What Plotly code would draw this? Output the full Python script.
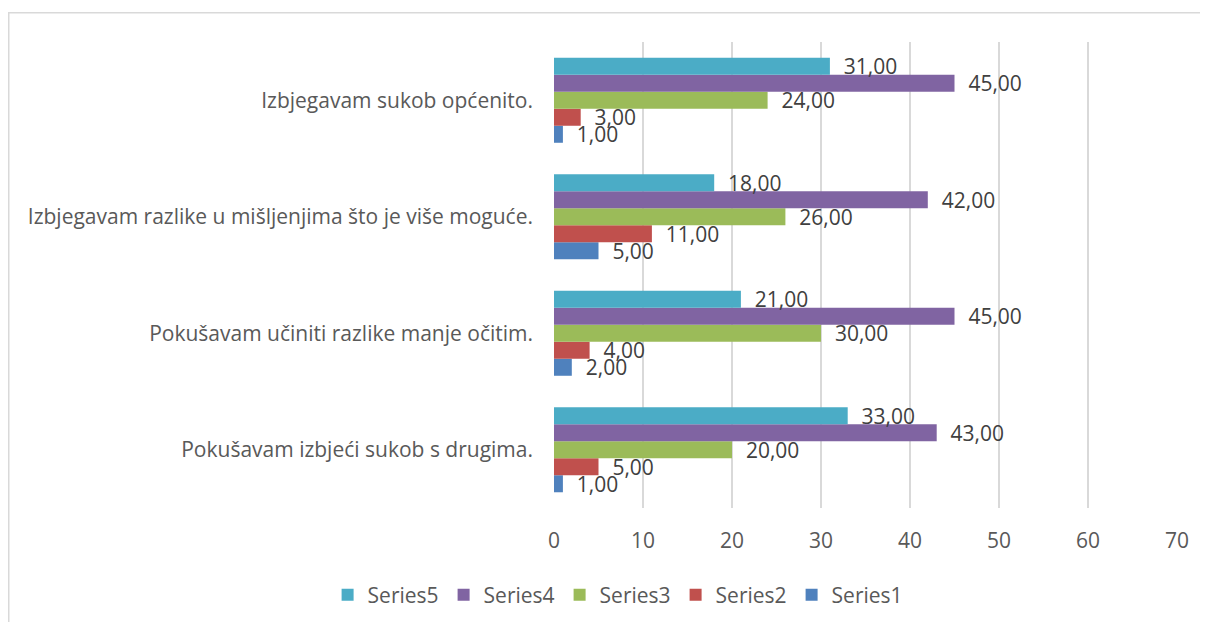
import plotly.graph_objects as go

categories = [
    "Pokušavam izbjeći sukob s drugima.",
    "Pokušavam učiniti razlike manje očitim.",
    "Izbjegavam razlike u mišljenjima što je više moguće.",
    "Izbjegavam sukob općenito.",
]
series_names = ["Series1", "Series2", "Series3", "Series4", "Series5"]
series1 = [1, 2, 5, 1]
series2 = [5, 4, 11, 3]
series3 = [20, 30, 26, 24]
series4 = [43, 45, 42, 45]
series5 = [33, 21, 18, 31]
colors = ["#4F81BD", "#C0504D", "#9BBB59", "#8064A2", "#4BACC6"]
x_ticks = [0, 10, 20, 30, 40, 50, 60, 70]

FONT = "Open Sans"
FS = 21
W, H = 1200, 614
L, R, T, B = 546, 31, 34, 114
PW, PH = W - L - R, H - T - B

fig = go.Figure()
for name, vals, col in zip(series_names, [series1, series2, series3, series4, series5], colors):
    fig.add_trace(go.Bar(
        y=categories, x=vals, name=name, orientation="h",
        marker=dict(color=col, line=dict(width=0)),
        texttemplate="\u00a0\u00a0%{x:.2f}",
        textposition="outside",
        constraintext="none",
        cliponaxis=False,
        textfont=dict(family=FONT, size=FS, color="#404040"),
    ))

fig.update_layout(
    width=W, height=H,
    margin=dict(l=L, r=R, t=T, b=B, pad=0),
    paper_bgcolor="white", plot_bgcolor="white",
    barmode="group", bargap=0.27, bargroupgap=0,
    separators=",.",
    font=dict(family=FONT, size=FS, color="#595959"),
    showlegend=True,
    legend=dict(
        orientation="h", traceorder="reversed",
        xref="container", yref="container",
        x=0.508, xanchor="center", y=0.044, yanchor="middle",
        font=dict(family=FONT, size=FS, color="#595959"),
        itemwidth=30,
    ),
    xaxis=dict(
        range=[0, 70], tickvals=x_ticks, showgrid=True,
        gridcolor="#D9D9D9", gridwidth=1.5, zeroline=False,
        showline=False, ticks="", ticklabelstandoff=18,
        tickfont=dict(family=FONT, size=FS, color="#595959"),
    ),
    yaxis=dict(
        categoryorder="array", categoryarray=categories,
        showgrid=False, zeroline=False, showline=False, ticks="",
        ticklabelstandoff=20,
        tickfont=dict(family=FONT, size=FS, color="#595959"),
    ),
    shapes=[dict(
        type="rect", xref="paper", yref="paper",
        x0=(0.75 - L) / PW, x1=(W + 20 - L) / PW,
        y0=(H - B - (H + 20)) / PH, y1=(H - B - 4.75) / PH,
        line=dict(color="#D9D9D9", width=1.5), fillcolor="rgba(0,0,0,0)",
        layer="below",
    )],
)

fig.write_html("out.html")
